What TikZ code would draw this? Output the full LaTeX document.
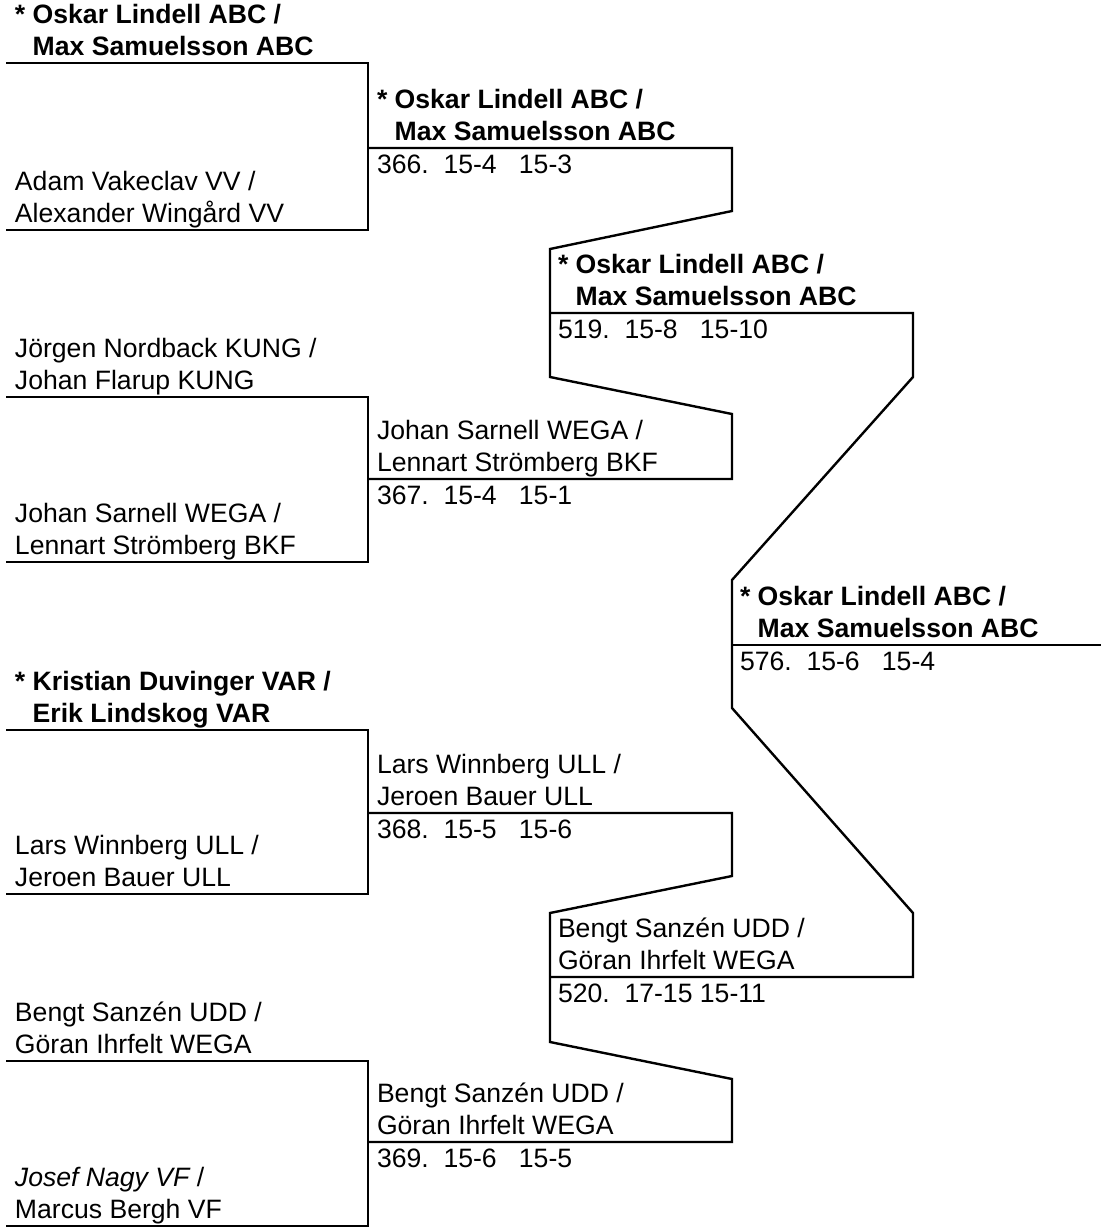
\documentclass[tikz,border=0pt]{standalone}
\usepackage{fontspec}
\setmainfont{Liberation Sans}
\newcommand\twoline[5]{%
  \node[lbl] (#1a) at (#2,{#3-32}) {#4};
  \node[lbl] (#1b) at (#2,#3) {#5};}
\begin{document}
\begin{tikzpicture}[x=1pt,y=-1pt,
  lbl/.style={anchor=base west,inner sep=0pt,outer sep=0pt},
  wire/.style={line width=2.4pt,line join=miter,line cap=butt},
  font=\fontsize{26.6}{32}\selectfont]
\useasboundingbox (0,0) rectangle (1101,1227);
% ---------- coordinates ----------
% round 1
\coordinate (a1) at (6,63);   \coordinate (a2) at (368,63);
\coordinate (a3) at (368,230); \coordinate (a4) at (6,230);
\coordinate (b1) at (6,397);  \coordinate (b2) at (368,397);
\coordinate (b3) at (368,562); \coordinate (b4) at (6,562);
\coordinate (c1) at (6,730);  \coordinate (c2) at (368,730);
\coordinate (c3) at (368,894); \coordinate (c4) at (6,894);
\coordinate (d1) at (6,1061); \coordinate (d2) at (368,1061);
\coordinate (d3) at (368,1226); \coordinate (d4) at (6,1226);
% round 2 upper
\coordinate (m366) at (368,148); \coordinate (u1) at (732,148);
\coordinate (u2) at (732,211);   \coordinate (u3) at (550,249);
\coordinate (u4) at (550,377);   \coordinate (u5) at (732,414);
\coordinate (u6) at (732,479);   \coordinate (m367) at (368,479);
% round 2 lower
\coordinate (m368) at (368,813); \coordinate (l1) at (732,813);
\coordinate (l2) at (732,876);   \coordinate (l3) at (550,913);
\coordinate (l4) at (550,1042);  \coordinate (l5) at (732,1079);
\coordinate (l6) at (732,1142);  \coordinate (m369) at (368,1142);
% round 3
\coordinate (m519) at (550,313); \coordinate (r1) at (913,313);
\coordinate (r2) at (913,377);   \coordinate (r3) at (732,580);
\coordinate (r4) at (732,708);   \coordinate (r5) at (913,913);
\coordinate (r6) at (913,977);   \coordinate (m520) at (550,977);
% final
\coordinate (f0) at (732,645);   \coordinate (f1) at (1101,645);
% ---------- wires ----------
\draw[wire] (a1) -- (a2) -- (a3) -- (a4);
\draw[wire] (b1) -- (b2) -- (b3) -- (b4);
\draw[wire] (c1) -- (c2) -- (c3) -- (c4);
\draw[wire] (d1) -- (d2) -- (d3) -- (d4);
\draw[wire] (m366) -- (u1) -- (u2) -- (u3) -- (u4) -- (u5) -- (u6) -- (m367);
\draw[wire] (m368) -- (l1) -- (l2) -- (l3) -- (l4) -- (l5) -- (l6) -- (m369);
\draw[wire] (m519) -- (r1) -- (r2) -- (r3) -- (r4) -- (r5) -- (r6) -- (m520);
\draw[wire] (f0) -- (f1);
% ---------- round 1 labels ----------
\twoline{p1}{15}{55}{\bfseries * Oskar Lindell ABC /}{\bfseries\hphantom{*\ }Max Samuelsson ABC}
\twoline{p2}{15}{222}{Adam Vakeclav VV /}{Alexander Wingård VV}
\twoline{p3}{15}{389}{Jörgen Nordback KUNG /}{Johan Flarup KUNG}
\twoline{p4}{15}{554}{Johan Sarnell WEGA /}{Lennart Strömberg BKF}
\twoline{p5}{15}{722}{\bfseries * Kristian Duvinger VAR /}{\bfseries\hphantom{*\ }Erik Lindskog VAR}
\twoline{p6}{15}{886}{Lars Winnberg ULL /}{Jeroen Bauer ULL}
\twoline{p7}{15}{1053}{Bengt Sanzén UDD /}{Göran Ihrfelt WEGA}
\twoline{p8}{15}{1218}{\itshape Josef Nagy VF\upshape\ /}{Marcus Bergh VF}
% ---------- round 2 labels ----------
\twoline{w366}{377}{140}{\bfseries * Oskar Lindell ABC /}{\bfseries\hphantom{*\ }Max Samuelsson ABC}
\node[lbl] (s366) at (377,173) {366.\ \ 15-4\ \ \ 15-3};
\twoline{w367}{377}{471}{Johan Sarnell WEGA /}{Lennart Strömberg BKF}
\node[lbl] (s367) at (377,504) {367.\ \ 15-4\ \ \ 15-1};
\twoline{w368}{377}{805}{Lars Winnberg ULL /}{Jeroen Bauer ULL}
\node[lbl] (s368) at (377,838) {368.\ \ 15-5\ \ \ 15-6};
\twoline{w369}{377}{1134}{Bengt Sanzén UDD /}{Göran Ihrfelt WEGA}
\node[lbl] (s369) at (377,1167) {369.\ \ 15-6\ \ \ 15-5};
% ---------- round 3 labels ----------
\twoline{w519}{558}{305}{\bfseries * Oskar Lindell ABC /}{\bfseries\hphantom{*\ }Max Samuelsson ABC}
\node[lbl] (s519) at (558,338) {519.\ \ 15-8\ \ \ 15-10};
\twoline{w520}{558}{969}{Bengt Sanzén UDD /}{Göran Ihrfelt WEGA}
\node[lbl] (s520) at (558,1002) {520.\ \ 17-15\ 15-11};
% ---------- final ----------
\twoline{w576}{740}{637}{\bfseries * Oskar Lindell ABC /}{\bfseries\hphantom{*\ }Max Samuelsson ABC}
\node[lbl] (s576) at (740,670) {576.\ \ 15-6\ \ \ 15-4};
\end{tikzpicture}
\end{document}
